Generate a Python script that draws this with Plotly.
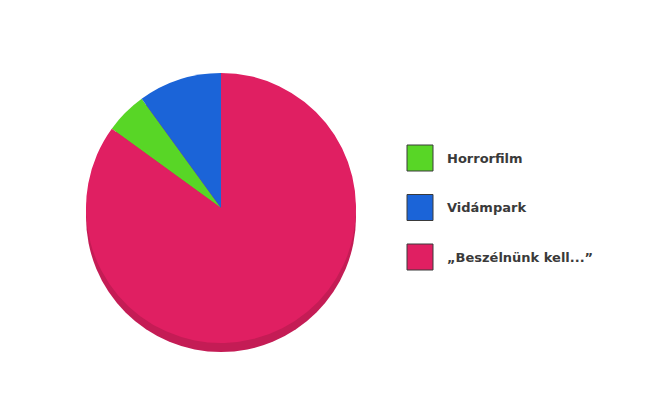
import plotly.graph_objects as go

# slice data, in legend order
labels = ["Horrorfilm", "Vidámpark", "„Beszélnünk kell...”"]
values = [5, 10, 85]
colors = ["#58d626", "#1b64d8", "#e01f62"]

W, H = 650, 415
off = 8                     # page body margin of the browser
cx, cy, r = 221 - off, 208 - off, 135   # pie centre / radius in px
depth = 9                   # fake 3d rim


def dom(cx, cy, r):
    return dict(x=[(cx - r) / W, (cx + r) / W],
                y=[(H - cy - r) / H, (H - cy + r) / H])


fig = go.Figure()

# darker copy underneath, pushed down a bit for the rim
fig.add_trace(go.Pie(values=[sum(values)], labels=["rim"], marker=dict(colors=["#c41c55"]),
                     textinfo="none", hoverinfo="skip", showlegend=False, sort=False,
                     domain=dom(cx, cy + depth, r)))

fig.add_trace(go.Pie(labels=labels, values=values, marker=dict(colors=colors, line=dict(width=0)),
                     sort=False, direction="clockwise", rotation=360 - 360 * (values[0] + values[1]) / sum(values),
                     textinfo="none", showlegend=False, domain=dom(cx, cy, r)))

# hand-made legend with big swatches
shapes, annos = [], []
for i, (lab, col) in enumerate(zip(labels, colors)):
    yc = 158 - off + i * 49.5
    x0 = 407 - off
    shapes.append(dict(type="rect", xref="paper", yref="paper",
                       x0=x0 / W, x1=(x0 + 26) / W, y0=(H - yc - 13) / H, y1=(H - yc + 13) / H,
                       fillcolor=col, line=dict(color="#3a3a3a", width=1)))
    annos.append(dict(text="<b>" + lab + "</b>", xref="paper", yref="paper", x=(445 - off) / W, y=(H - yc) / H,
                      xanchor="left", yanchor="middle", showarrow=False,
                      font=dict(family="DejaVu Sans", size=13, color="#3a3a3a")))

fig.update_layout(width=W, height=H, margin=dict(l=0, r=0, t=0, b=0),
                  paper_bgcolor="white", plot_bgcolor="white",
                  shapes=shapes, annotations=annos, showlegend=False)

fig.write_html("out.html")
